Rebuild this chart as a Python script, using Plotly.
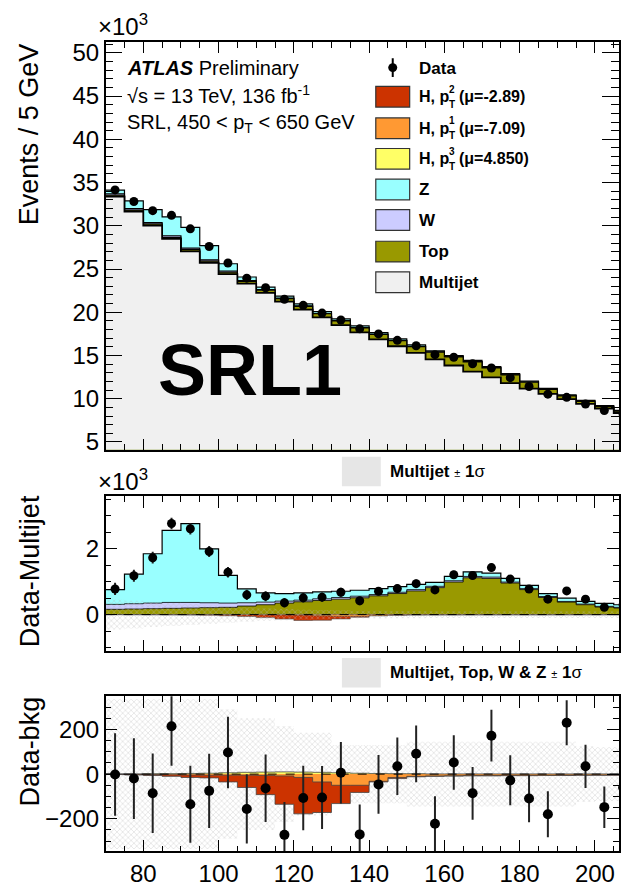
import plotly.graph_objects as go

W, H = 621, 887

bin_edges = [70, 75, 80, 85, 90, 95, 100, 105, 110, 115, 120, 125, 130, 135, 140,
             145, 150, 155, 160, 165, 170, 175, 180, 185, 190, 195, 200, 205, 210]
bin_centers = [72.5, 77.5, 82.5, 87.5, 92.5, 97.5, 102.5, 107.5, 112.5, 117.5, 122.5,
               127.5, 132.5, 137.5, 142.5, 147.5, 152.5, 157.5, 162.5, 167.5, 172.5,
               177.5, 182.5, 187.5, 192.5, 197.5, 202.5, 207.5]

# ---- top panel (x10^3 events)
data_top = [34.15, 32.81, 31.75, 31.21, 29.65, 27.60, 25.69, 23.94, 22.84, 21.50, 20.80,
            19.90, 19.10, 18.08, 17.50, 16.75, 16.13, 15.10, 14.80, 14.04, 13.55, 12.44,
            11.41, 10.53, 10.16, 9.39, 8.64, 8.20]
multijet = [33.37, 31.65, 30.03, 28.48, 27.05, 25.70, 24.42, 23.30, 22.25, 21.22, 20.30,
            19.40, 18.52, 17.68, 16.86, 16.07, 15.30, 14.56, 13.84, 13.14, 12.46, 11.80,
            11.16, 10.55, 9.96, 9.40, 8.86, 8.35]
# ---- background components (x10^3 events)
top_bkg = [0.16, 0.17, 0.18, 0.19, 0.20, 0.21, 0.22, 0.26, 0.30, 0.35, 0.39, 0.43, 0.47,
           0.51, 0.57, 0.64, 0.72, 0.82, 0.99, 1.12, 1.10, 0.96, 0.76, 0.52, 0.38, 0.30,
           0.23, 0.20]
w_bkg = [0.15, 0.16, 0.17, 0.18, 0.17, 0.15, 0.13, 0.10, 0.08, 0.06, 0.05, 0.05, 0.05,
         0.05, 0.04, 0.04, 0.04, 0.04, 0.04, 0.04, 0.04, 0.03, 0.03, 0.03, 0.02, 0.02,
         0.02, 0.02]
z_bkg = [0.45, 0.90, 1.50, 2.19, 2.40, 1.64, 0.84, 0.42, 0.28, 0.23, 0.22, 0.21, 0.19,
         0.18, 0.18, 0.17, 0.16, 0.12, 0.13, 0.14, 0.12, 0.11, 0.10, 0.09, 0.10, 0.08,
         0.09, 0.08]
# ---- middle panel: data - multijet (x10^3)
data_mid = [0.78, 1.18, 1.73, 2.77, 2.61, 1.92, 1.29, 0.60, 0.56, 0.36, 0.51, 0.53, 0.68,
            0.42, 0.71, 0.79, 0.94, 0.75, 1.21, 1.19, 1.43, 1.08, 0.78, 0.47, 0.72, 0.47,
            0.22, 0.30]
mj_sigma = [0.45, 0.42, 0.38, 0.35, 0.32, 0.28, 0.25, 0.22, 0.19, 0.17, 0.15, 0.14, 0.13,
            0.12, 0.12, 0.11, 0.11, 0.10, 0.10, 0.10, 0.10, 0.10, 0.10, 0.10, 0.10, 0.10,
            0.10, 0.10]
# ---- bottom panel: data - bkg (events)
data_bot = [-2, -20, -86, 214, -135, -75, 97, -156, -63, -272, -107, -105, 6, -270, -46,
            35, 91, -222, 52, -86, 172, -28, -109, -180, 230, 35, -148, -60]
data_err = [185, 181, 178, 177, 172, 166, 160, 155, 151, 147, 144, 141, 138, 134, 132,
            129, 127, 123, 122, 118, 116, 112, 107, 103, 101, 97, 93, 91]
bkg_sigma = [335, 335, 335, 335, 335, 335, 290, 250, 250, 215, 185, 185, 130, 130, 130,
             130, 145, 145, 145, 145, 145, 145, 145, 145, 145, 125, 120, 120]
# Higgs contributions (events), cumulative as drawn in the stack
h_pt3 = [1, 1, 2, 2, 3, 4, 6, 8, 9, 10, 9, 8, 6, 4, 3, 2, 2, 1, 1, 1, 1, 1, 1, 1, 1, 1, 1, 1]
h_pt3_pt1 = [0, -1, -2, -3, -4, -5, -5, -5, -6, -8, -15, -35, -50, -50, -32, -15, -10, -8,
             -7, -6, -6, -5, -5, -5, -4, -4, -4, -4]
h_all = [-2, -4, -6, -10, -15, -17, -35, -60, -92, -135, -178, -172, -132, -82, -35, -20,
         -12, -10, -9, -8, -8, -7, -7, -6, -6, -5, -5, -5]

C_H2, C_H1, C_H3 = "#cc3300", "#ff9933", "#ffff66"
C_Z, C_W, C_TOP, C_MJ = "#99ffff", "#ccccff", "#999900", "#f0f0f0"
FONT = "Liberation Sans"


def stepy(v):
    return list(v) + [v[-1]]


def csum(*arrs):
    return [sum(t) for t in zip(*arrs)]


fig = go.Figure()


def fill_step(vals, color, xa, ya, lw=1.2, lc="black", fill="tozeroy"):
    fig.add_trace(go.Scatter(x=bin_edges, y=stepy(vals), mode="lines",
                             line=dict(shape="hv", color=lc, width=lw),
                             fill=fill, fillcolor=color, xaxis=xa, yaxis=ya,
                             showlegend=False, hoverinfo="skip"))


def band(half, xa, ya):
    up = list(half)
    lo = [-h for h in half]
    fig.add_trace(go.Scatter(x=bin_edges, y=stepy(up), mode="lines",
                             line=dict(shape="hv", width=0, color="rgba(0,0,0,0)"),
                             xaxis=xa, yaxis=ya, showlegend=False, hoverinfo="skip"))
    fig.add_trace(go.Scatter(x=bin_edges, y=stepy(lo), mode="lines",
                             line=dict(shape="hv", width=0, color="rgba(0,0,0,0)"),
                             fill="tonexty", fillcolor="rgba(0,0,0,0)",
                             fillpattern=dict(shape="x", size=4, solidity=0.3,
                                              fgcolor="#b8b8b8", bgcolor="rgba(0,0,0,0)"),
                             xaxis=xa, yaxis=ya, showlegend=False, hoverinfo="skip"))


def data_pts(vals, errs, xa, ya, size=9):
    fig.add_trace(go.Scatter(x=bin_centers, y=vals, mode="markers",
                             marker=dict(color="black", size=size),
                             error_y=dict(type="data", array=errs, thickness=2, width=0,
                                          color="#222"),
                             xaxis=xa, yaxis=ya, showlegend=False, hoverinfo="skip"))


# ---- top panel stack
fill_step(csum(multijet, top_bkg, w_bkg, z_bkg), C_Z, "x", "y")
fill_step(csum(multijet, top_bkg, w_bkg), C_W, "x", "y")
fill_step(csum(multijet, top_bkg), C_TOP, "x", "y")
fill_step(multijet, C_MJ, "x", "y", lw=1.8)
data_pts(data_top, [e / 1000 for e in data_err], "x", "y")

# ---- middle panel
fill_step(csum(top_bkg, w_bkg, z_bkg), C_Z, "x2", "y2")
fill_step(csum(top_bkg, w_bkg), C_W, "x2", "y2", lw=0.8)
fill_step(top_bkg, C_TOP, "x2", "y2", lw=0.8)
fill_step([v / 1000 for v in h_all], C_H2, "x2", "y2", lw=0.6, lc="#444")
fill_step([v / 1000 for v in h_pt3_pt1], C_H1, "x2", "y2", lw=0.6, lc="#444")
fill_step([v / 1000 for v in h_pt3], C_H3, "x2", "y2", lw=0.6, lc="#444")
band(mj_sigma, "x2", "y2")
data_pts(data_mid, [e / 1000 for e in data_err], "x2", "y2")

# ---- bottom panel
band(bkg_sigma, "x3", "y3")
fill_step(h_all, C_H2, "x3", "y3", lw=0.8, lc="#444")
fill_step(h_pt3_pt1, C_H1, "x3", "y3", lw=0.8, lc="#444")
fill_step(h_pt3, C_H3, "x3", "y3", lw=0.8, lc="#444")
data_pts(data_bot, data_err, "x3", "y3", size=10)


def px(x):
    return x / W


def py(y):
    return 1 - y / H


xdom = [px(106), 1.0]
XR = [70, 206.4]


def xaxis(dom_anchor, show_labels, tl, ml):
    return dict(domain=xdom, range=XR, anchor=dom_anchor, showline=True, linecolor="black",
                linewidth=1.5, mirror="allticks", ticks="inside", ticklen=tl, tickwidth=1.2,
                tickcolor="black", tick0=0, dtick=20, showgrid=False, zeroline=False,
                showticklabels=show_labels,
                tickfont=dict(family=FONT, size=24, color="black"),
                minor=dict(ticks="inside", ticklen=ml, tickwidth=1, tickcolor="black",
                           dtick=5, tick0=0, showgrid=False))


def yaxis(dom, rng, anchor, dtick, mdtick, tl, ml):
    return dict(domain=dom, range=rng, anchor=anchor, showline=True, linecolor="black",
                linewidth=1.5, mirror="allticks", ticks="inside", ticklen=tl, tickwidth=1.2,
                tickcolor="black", tick0=0, dtick=dtick, showgrid=False, zeroline=False,
                tickfont=dict(family=FONT, size=24, color="black"),
                minor=dict(ticks="inside", ticklen=ml, tickwidth=1, tickcolor="black",
                           dtick=mdtick, tick0=0, showgrid=False))


anns = []


def ann(text, x, y, size, xanchor="left", yanchor="middle", angle=0, color="black"):
    anns.append(dict(text=text, x=px(x), y=py(y), xref="paper", yref="paper",
                     xanchor=xanchor, yanchor=yanchor, textangle=angle, showarrow=False,
                     borderpad=0, font=dict(family=FONT, size=size, color=color)))


# axis titles
ann("Events / 5 GeV", 30, 40, 27, xanchor="center", yanchor="top", angle=-90)
ann("Data-Multijet", 30, 498, 27, xanchor="center", yanchor="top", angle=-90)
ann("Data-bkg", 30, 702, 27, xanchor="center", yanchor="top", angle=-90)
ann("×10<sup>3</sup>", 97, 22, 24)
ann("×10<sup>3</sup>", 97, 484, 24)

# top panel texts
ann("<b><i>ATLAS</i></b> Preliminary", 126, 66, 20)
ann("√s = 13 TeV, 136 fb<sup>-1</sup>", 126, 93, 20)
ann("SRL, 450 &lt; p<sub>T</sub> &lt; 650 GeV", 126, 122, 20)
ann("<b>SRL1</b>", 158, 372, 72)

shapes = []


def box(x0, y0, x1, y1, color, lc="#333"):
    shapes.append(dict(type="rect", xref="paper", yref="paper", x0=px(x0), x1=px(x1),
                       y0=py(y1), y1=py(y0), fillcolor=color,
                       line=dict(color=lc, width=1.2), layer="above"))


# legend
ann("<b>Data</b>", 419, 66, 17)
shapes.append(dict(type="line", xref="paper", yref="paper", x0=px(394), x1=px(394),
                   y0=py(56), y1=py(75), line=dict(color="black", width=2)))
shapes.append(dict(type="circle", xref="paper", yref="paper", x0=px(389.5), x1=px(398.5),
                   y0=py(70), y1=py(61), fillcolor="black", line=dict(color="black", width=0)))
legend_rows = [
    (95, C_H2, "2", "(μ=-2.89)"),
    (127, C_H1, "1", "(μ=-7.09)"),
    (158, C_H3, "3", "(μ=4.850)"),
]
for yc, col, idx, mu in legend_rows:
    box(377, yc - 10.5, 411, yc + 10.5, col)
    ann("<b>H, p</b>", 419, yc, 16)
    ann("<b>%s</b>" % idx, 453, yc - 7.5, 10, xanchor="center")
    ann("<b>T</b>", 453, yc + 7.5, 10, xanchor="center")
    ann("<b>%s</b>" % mu, 459, yc, 16)
for yc, col, lab in [(189, C_Z, "Z"), (220, C_W, "W"), (252, C_TOP, "Top"),
                     (283, C_MJ, "Multijet")]:
    box(377, yc - 10.5, 411, yc + 10.5, col)
    ann("<b>%s</b>" % lab, 419, yc, 17)

# band legends
box(343, 460, 382, 490, "#e6e6e6", lc="rgba(0,0,0,0)")
ann("<b>Multijet</b> <span style='font-size:11px'>±</span> <b>1</b>σ", 390, 475, 17)
box(343, 664, 382, 694, "#e6e6e6", lc="rgba(0,0,0,0)")
ann("<b>Multijet, Top, W &amp; Z</b> <span style='font-size:11px'>±</span> <b>1</b>σ",
    390, 679, 17)

# dashed zero lines
for xr, yr in [("x2 domain", "y2"), ("x3 domain", "y3")]:
    shapes.append(dict(type="line", xref=xr, yref=yr, x0=0, x1=1, y0=0, y1=0,
                       line=dict(color="black", width=1, dash="dash"), layer="above"))

fig.update_layout(
    width=W, height=H, margin=dict(l=0, r=0, t=0, b=0),
    paper_bgcolor="white", plot_bgcolor="white", showlegend=False,
    xaxis=xaxis("y", False, 11, 6),
    yaxis=yaxis([py(452.7), py(40)], [4.12, 51.2], "x", 5, 1, 17, 8),
    xaxis2=xaxis("y2", False, 12, 6),
    yaxis2=yaxis([py(657.3), py(500)], [-1.12, 3.6], "x2", 2, 0.5, 12, 6),
    xaxis3=xaxis("y3", True, 12, 6),
    yaxis3=yaxis([py(860), py(702.7)], [-346, 349], "x3", 200, 50, 12, 6),
    annotations=anns, shapes=shapes,
)

fig.write_html("out.html")
